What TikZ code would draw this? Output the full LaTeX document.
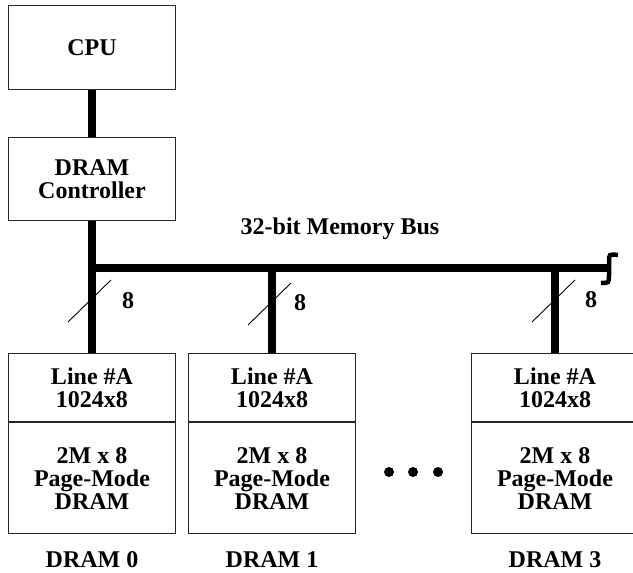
\documentclass[tikz,border=0pt]{standalone}
\usepackage{fontspec}
\setmainfont{Liberation Serif}
\begin{document}
\begin{tikzpicture}[x=1pt,y=-1pt,
  txt/.style={font=\fontsize{24}{23}\selectfont\bfseries, align=center, inner sep=0pt},
  box/.style={txt, draw=black!85, line width=1.2pt, minimum width=167pt, anchor=north},
  topbox/.style={box, minimum height=68pt},
  lowbox/.style={box, minimum height=111pt},
  bus/.style={line width=7.5pt, black},
  slash/.style={line width=0.9pt, black},
  dot/.style={circle, fill=black, inner sep=0pt, minimum size=10pt}]
\useasboundingbox (0,0) rectangle (633,573);
% CPU and controller
\node[box, minimum height=84pt] (cpu) at (92,5) {CPU};
\node[box, minimum height=83pt] (ctrl) at (92,137) {DRAM\\Controller};
% DRAM modules
\foreach \i/\x in {0/92,1/272,3/555}{
  \node[topbox] (top\i) at (\x,353) {Line \#A\\1024x8};
  \node[lowbox] (low\i) at (top\i.south) {2M x 8\\Page-Mode\\DRAM};
  \node[txt] (lab\i) at (\x,560) {DRAM \i};
  \coordinate (j\i) at (\x,268);
}
\coordinate (busend) at (607,268);
% bus label
\node[txt] (buslabel) at (340,229) {32-bit Memory Bus};
% thick connectors
\draw[bus] (cpu.south) -- (ctrl.north);
\draw[bus] (ctrl.south) -- (top0.north);
\draw[bus] ([xshift=-3.75pt]j0) -- (busend);
\draw[bus] (j1) -- (top1.north);
\draw[bus] (j3) -- (top3.north);
% squiggle bus end
\draw[line width=4.5pt, line cap=butt] (618,255) .. controls (609,254) .. (609,262) -- (609,275) .. controls (609,283) .. (601,283);
% width slashes and labels
\draw[slash] ([shift={(-24,22)}]j0 |- 0,300) -- ([shift={(19,-20)}]j0 |- 0,300);
\draw[slash] ([shift={(-24,22)}]j1 |- 0,303) -- ([shift={(19,-20)}]j1 |- 0,303);
\draw[slash] ([shift={(-23,21)}]j3 |- 0,301) -- ([shift={(20,-21)}]j3 |- 0,301);
\node[txt] (w0) at (128,301) {8};
\node[txt] (w1) at (300,303) {8};
\node[txt] (w3) at (591,300) {8};
% ellipsis
\node[dot] (d1) at (389,472) {};
\node[dot] (d2) at (413,472) {};
\node[dot] (d3) at (438,472) {};
\end{tikzpicture}
\end{document}
